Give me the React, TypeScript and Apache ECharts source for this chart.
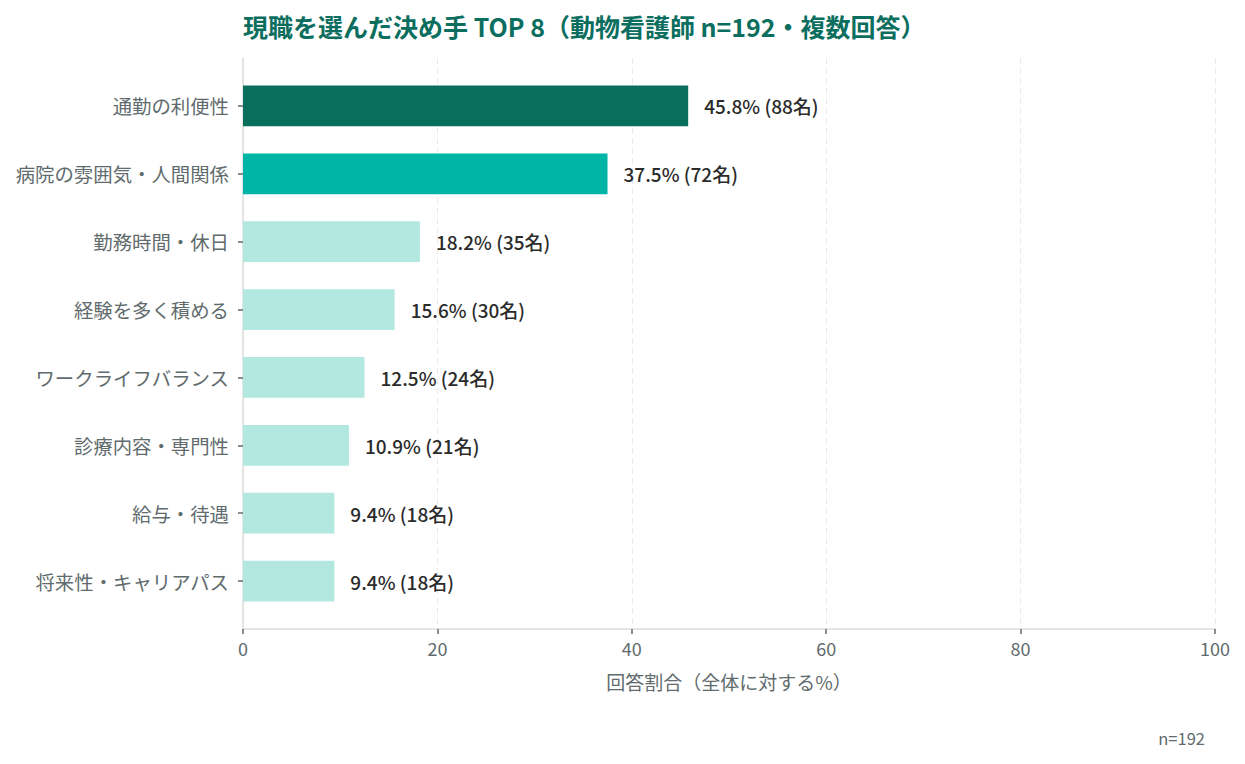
import React, { useEffect, useRef } from "react";
import * as echarts from "echarts";

const categories = [
  "通勤の利便性",
  "病院の雰囲気・人間関係",
  "勤務時間・休日",
  "経験を多く積める",
  "ワークライフバランス",
  "診療内容・専門性",
  "給与・待遇",
  "将来性・キャリアパス",
];
const percents = [45.8, 37.5, 18.2, 15.6, 12.5, 10.9, 9.4, 9.4];
const counts = [88, 72, 35, 30, 24, 21, 18, 18];
const barColors = ["#0a6e5d", "#00b5a6", "#b2e8e0", "#b2e8e0", "#b2e8e0", "#b2e8e0", "#b2e8e0", "#b2e8e0"];
const xTicks = { min: 0, max: 100, interval: 20 };

const FONT = "'Noto Sans CJK JP', 'Noto Sans', sans-serif";
const GRAY = "#5f6b6d";

export default function App() {
  const ref = useRef<HTMLDivElement>(null);
  useEffect(() => {
    if (!ref.current) return;
    const chart = echarts.init(ref.current, null, { renderer: "svg" });
    chart.setOption({
      animation: false,
      backgroundColor: "#ffffff",
      textStyle: { fontFamily: FONT },
      title: {
        text: "現職を選んだ決め手 TOP 8（動物看護師 n=192・複数回答）",
        left: 238,
        top: 8,
        textStyle: { fontFamily: FONT, fontSize: 25, fontWeight: "bold", color: "#0b6e5e" },
      },
      grid: [
        { left: 243, right: 30, top: 72, bottom: 149, containLabel: false },
        { left: 243, right: 30, top: 58, bottom: 135, containLabel: false },
      ],
      xAxis: [
        {
          gridIndex: 0,
          type: "value",
          min: xTicks.min,
          max: xTicks.max,
          interval: xTicks.interval,
          show: false,
        },
        {
          gridIndex: 1,
          type: "value",
          min: xTicks.min,
          max: xTicks.max,
          interval: xTicks.interval,
          axisLine: { show: true, lineStyle: { color: "#dddddd", width: 1.5 } },
          axisTick: { show: true, length: 5, lineStyle: { color: GRAY, width: 1.5 } },
          axisLabel: { color: GRAY, fontSize: 18, fontFamily: FONT, margin: 10 },
          splitLine: { show: true, lineStyle: { color: "#ebebeb", type: [6, 4], width: 1 } },
          name: "回答割合（全体に対する%）",
          nameLocation: "middle",
          nameGap: 43,
          nameTextStyle: { color: GRAY, fontSize: 19, fontFamily: FONT },
        },
      ],
      yAxis: [
        {
          gridIndex: 0,
          type: "category",
          inverse: true,
          data: categories,
          axisLine: { show: false },
          axisTick: { show: true, alignWithLabel: true, length: 5, lineStyle: { color: GRAY, width: 1.5 } },
          axisLabel: { color: GRAY, fontSize: 19.4, fontFamily: FONT, margin: 14 },
          splitLine: { show: false },
        },
        {
          gridIndex: 1,
          type: "value",
          min: 0,
          max: 1,
          axisLine: { show: true, lineStyle: { color: "#dddddd", width: 1.5 } },
          axisTick: { show: false },
          axisLabel: { show: false },
          splitLine: { show: false },
        },
      ],
      series: [
        {
          type: "bar",
          xAxisIndex: 0,
          yAxisIndex: 0,
          barWidth: "60%",
          data: percents.map((v, i) => ({ value: v, itemStyle: { color: barColors[i] } })),
          label: {
            show: true,
            position: "right",
            distance: 16,
            color: "#2b2b2b",
            fontSize: 19,
            fontWeight: 500,
            fontFamily: FONT,
            formatter: (p: any) => `${percents[p.dataIndex].toFixed(1)}% (${counts[p.dataIndex]}名)`,
          },
        },
      ],
      graphic: [
        {
          type: "text",
          right: 40,
          top: 730,
          style: { text: "n=192", fill: GRAY, fontSize: 16.5, fontFamily: FONT },
        },
      ],
    });
    return () => chart.dispose();
  }, []);
  return (
    <div
      ref={ref}
      style={{ position: "fixed", left: 0, top: 0, width: 1245, height: 764 }}
    />
  );
}
